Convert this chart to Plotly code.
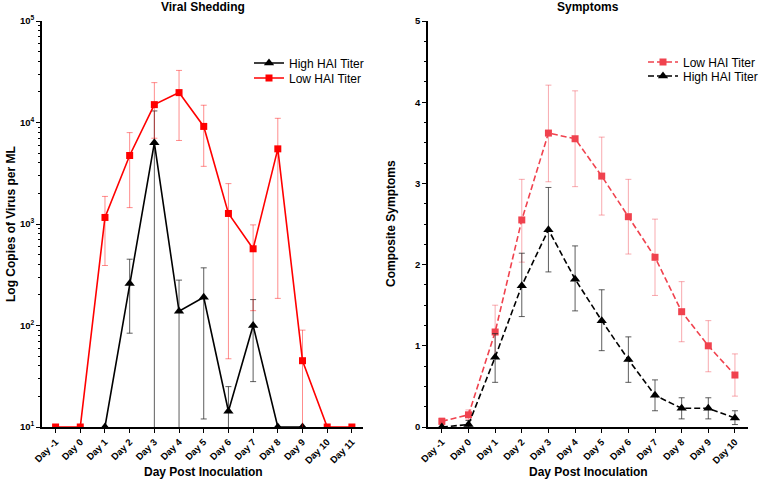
import plotly.graph_objects as go

# ---------------- data ----------------
days_left = [-1, 0, 1, 2, 3, 4, 5, 6, 7, 8, 9, 10, 11]
labels_left = ["Day -1", "Day 0", "Day 1", "Day 2", "Day 3", "Day 4", "Day 5",
               "Day 6", "Day 7", "Day 8", "Day 9", "Day 10", "Day 11"]

low_shed = [10, 10, 1160, 4730, 15000, 19700, 9150, 1270, 570, 5500, 45, 10, 10]
low_shed_hi = [10, 10, 1870, 7950, 24700, 32600, 14800, 2500, 980, 11000, 90, 10, 10]
low_shed_lo = [10, 10, 390, 1450, 7000, 6650, 3700, 47, 140, 185, 1, 10, 10]

high_days = [1, 2, 3, 4, 5, 6, 7, 8, 9]
high_shed = [10, 260, 6300, 138, 190, 14.3, 100, 10, 10]
high_shed_hi = [10, 450, 13000, 280, 370, 25, 180, 10, 10]
high_shed_lo = [10, 84, 1, 1, 12, 1, 28, 10, 10]

days_right = [-1, 0, 1, 2, 3, 4, 5, 6, 7, 8, 9, 10]
labels_right = ["Day -1", "Day 0", "Day 1", "Day 2", "Day 3", "Day 4", "Day 5",
                "Day 6", "Day 7", "Day 8", "Day 9", "Day 10"]

low_sym = [0.07, 0.15, 1.17, 2.55, 3.62, 3.55, 3.09, 2.59, 2.09, 1.42, 1.00, 0.64]
low_sym_hi = [0.11, 0.21, 1.50, 3.05, 4.21, 4.14, 3.57, 3.05, 2.56, 1.79, 1.31, 0.90]
low_sym_lo = [0.03, 0.09, 0.86, 2.03, 3.02, 2.96, 2.61, 2.13, 1.62, 1.05, 0.68, 0.38]

high_sym = [0.0, 0.03, 0.86, 1.74, 2.43, 1.82, 1.31, 0.83, 0.39, 0.23, 0.23, 0.11]
high_sym_hi = [0.0, 0.08, 1.15, 2.14, 2.95, 2.23, 1.69, 1.11, 0.58, 0.36, 0.36, 0.20]
high_sym_lo = [0.0, 0.0, 0.55, 1.36, 1.91, 1.43, 0.94, 0.55, 0.20, 0.10, 0.10, 0.03]

RED = "#ff0000"
RED_ERR = "rgba(255,0,0,0.45)"
PINK = "#f0424e"
PINK_ERR = "rgba(240,66,78,0.45)"
GRAY_ERR = "rgba(40,40,40,0.75)"
FONT = "Liberation Sans, Arial, Helvetica, sans-serif"
DASH = "6px,3px"


def plus(v, hi):
    return [h - x for x, h in zip(v, hi)]


def minus(v, lo):
    return [x - l for x, l in zip(v, lo)]


fig = go.Figure()

# Left panel
fig.add_trace(go.Scatter(
    x=high_days, y=high_shed, name="High HAI Titer", mode="lines+markers",
    line=dict(color="black", width=1.6),
    marker=dict(symbol="triangle-up", size=9, color="black"),
    error_y=dict(type="data", symmetric=False, array=plus(high_shed, high_shed_hi),
                 arrayminus=minus(high_shed, high_shed_lo), color=GRAY_ERR,
                 thickness=1, width=3),
    xaxis="x", yaxis="y", legend="legend"))
fig.add_trace(go.Scatter(
    x=days_left, y=low_shed, name="Low HAI Titer", mode="lines+markers",
    line=dict(color=RED, width=1.6),
    marker=dict(symbol="square", size=7, color=RED),
    error_y=dict(type="data", symmetric=False, array=plus(low_shed, low_shed_hi),
                 arrayminus=minus(low_shed, low_shed_lo), color=RED_ERR,
                 thickness=1, width=3),
    xaxis="x", yaxis="y", legend="legend2"))

# Right panel
fig.add_trace(go.Scatter(
    x=days_right, y=low_sym, name="Low HAI Titer", mode="lines+markers",
    line=dict(color=PINK, width=1.6, dash=DASH),
    marker=dict(symbol="square", size=7, color=PINK),
    error_y=dict(type="data", symmetric=False, array=plus(low_sym, low_sym_hi),
                 arrayminus=minus(low_sym, low_sym_lo), color=PINK_ERR,
                 thickness=1, width=3),
    xaxis="x2", yaxis="y2", legend="legend3"))
fig.add_trace(go.Scatter(
    x=days_right, y=high_sym, name="High HAI Titer", mode="lines+markers",
    line=dict(color="black", width=1.6, dash=DASH),
    marker=dict(symbol="triangle-up", size=9, color="black"),
    error_y=dict(type="data", symmetric=False, array=plus(high_sym, high_sym_hi),
                 arrayminus=minus(high_sym, high_sym_lo), color=GRAY_ERR,
                 thickness=1, width=3),
    xaxis="x2", yaxis="y2", legend="legend4"))

W, H = 760, 482
ydom = [(H - 427) / H, (H - 21) / H]
tickfont = dict(family=FONT, size=9.5, color="black", weight="bold")

decades = [10, 100, 1000, 10000, 100000]
dec_labels = ["10<sup>1</sup>", "10<sup>2</sup>", "10<sup>3</sup>", "10<sup>4</sup>", "10<sup>5</sup>"]
minor_vals = [m * d for d in decades[:-1] for m in range(2, 10)]

axis_common = dict(showgrid=False, zeroline=False, showline=True, linecolor="black",
                   linewidth=1.6, ticks="outside", ticklen=4, tickwidth=1.3,
                   tickcolor="black", tickfont=tickfont, automargin=False)


def leg(xpx, ypx):
    return dict(x=xpx / W, y=1 - ypx / H, xanchor="left", yanchor="middle",
                bgcolor="rgba(0,0,0,0)", font=dict(family=FONT, size=12, color="black"),
                itemwidth=30, tracegroupgap=0, borderwidth=0)


fig.update_layout(
    width=W, height=H,
    margin=dict(l=0, r=0, t=0, b=0, autoexpand=False),
    paper_bgcolor="white", plot_bgcolor="white",
    showlegend=True,
    xaxis=dict(domain=[42 / W, 363 / W], range=[-1.55, 11.45], tickvals=days_left,
               ticktext=labels_left, tickangle=-45, anchor="y", **axis_common),
    yaxis=dict(domain=ydom, type="log", range=[1, 5], tickvals=decades,
               ticktext=dec_labels, anchor="x",
               minor=dict(tickvals=minor_vals, ticks="outside", ticklen=2.5,
                          tickcolor="black", tickwidth=1),
               **axis_common),
    xaxis2=dict(domain=[428 / W, 748 / W], range=[-1.52, 10.49], tickvals=days_right,
                ticktext=labels_right, tickangle=-45, anchor="y2", **axis_common),
    yaxis2=dict(domain=ydom, range=[0, 5], tickvals=[0, 1, 2, 3, 4, 5], anchor="x2",
                minor=dict(dtick=0.25, ticks="outside", ticklen=2.5,
                           tickcolor="black", tickwidth=1),
                **axis_common),
    legend=leg(249, 63),
    legend2=leg(249, 78),
    legend3=leg(643, 62),
    legend4=leg(643, 76),
)

ann_font = dict(family=FONT, size=12, color="black", weight="bold")
fig.add_annotation(text="Viral Shedding", x=203 / W, y=1 - 7 / H, xref="paper", yref="paper",
                   showarrow=False, font=ann_font, xanchor="center", yanchor="middle")
fig.add_annotation(text="Symptoms", x=588 / W, y=1 - 7 / H, xref="paper", yref="paper",
                   showarrow=False, font=ann_font, xanchor="center", yanchor="middle")
fig.add_annotation(text="Day Post Inoculation", x=203 / W, y=(H - 472) / H, xref="paper",
                   yref="paper", showarrow=False, font=ann_font, xanchor="center",
                   yanchor="middle")
fig.add_annotation(text="Day Post Inoculation", x=588 / W, y=(H - 472) / H, xref="paper",
                   yref="paper", showarrow=False, font=ann_font, xanchor="center",
                   yanchor="middle")
fig.add_annotation(text="Log Copies of Virus per ML", x=11 / W, y=(H - 224) / H,
                   xref="paper", yref="paper", showarrow=False, font=ann_font,
                   textangle=-90, xanchor="center", yanchor="middle")
fig.add_annotation(text="Composite Symptoms", x=391 / W, y=(H - 224) / H,
                   xref="paper", yref="paper", showarrow=False, font=ann_font,
                   textangle=-90, xanchor="center", yanchor="middle")

fig.write_html("out.html", config={"displayModeBar": False},
               post_script="document.body.style.margin='0';")
